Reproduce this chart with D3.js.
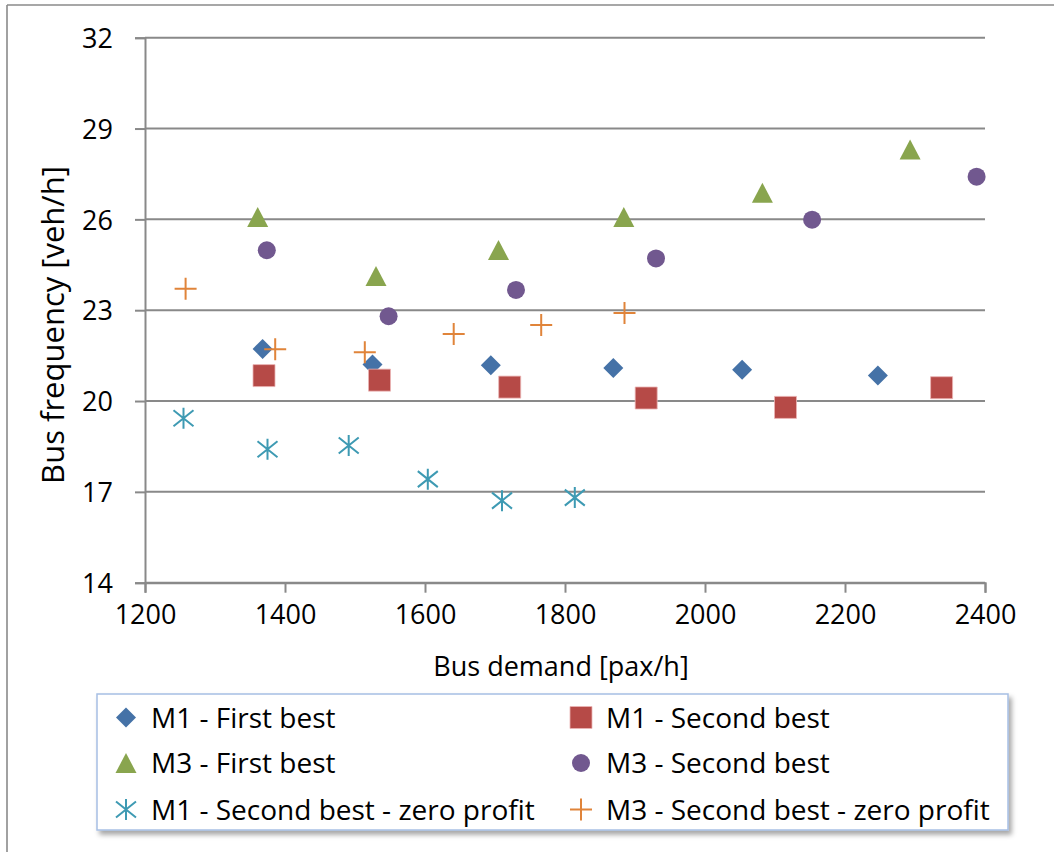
<!DOCTYPE html>
<html>
<head>
<meta charset="utf-8">
<script src="https://cdn.jsdelivr.net/npm/d3@7"></script>
<style>
  html, body { margin: 0; padding: 0; background: #fff; }
  svg { display: block; font-family: "Open Sans", "Noto Sans", sans-serif; }
</style>
</head>
<body>
<svg id="chart" width="1054" height="852"></svg>
<script>
// Bus demand [pax/h] and resulting bus frequency [veh/h] per scenario
const m1FirstX  = [1368, 1525, 1694, 1869, 2053, 2247];
const m1FirstY  = [21.72, 21.21, 21.18, 21.09, 21.03, 20.84];
const m1SecondX = [1370, 1535, 1721, 1916, 2115, 2338];
const m1SecondY = [20.84, 20.69, 20.46, 20.10, 19.79, 20.44];
const m3FirstX  = [1361, 1530, 1705, 1884, 2082, 2293];
const m3FirstY  = [26.08, 24.13, 24.99, 26.08, 26.88, 28.31];
const m3SecondX = [1374, 1548, 1730, 1930, 2153, 2388];
const m3SecondY = [24.98, 22.80, 23.67, 24.71, 25.99, 27.41];
const m1ZeroX   = [1255, 1375, 1491, 1604, 1710, 1814];
const m1ZeroY   = [19.43, 18.41, 18.53, 17.42, 16.71, 16.81];
const m3ZeroX   = [1258, 1386, 1514, 1641, 1766, 1885];
const m3ZeroY   = [23.71, 21.71, 21.61, 22.21, 22.51, 22.91];

const xTicks = [1200, 1400, 1600, 1800, 2000, 2200, 2400];
const yTicks = [14, 17, 20, 23, 26, 29, 32];
const seriesNames = [
  "M1 - First best", "M1 - Second best",
  "M3 - First best", "M3 - Second best",
  "M1 - Second best - zero profit", "M3 - Second best - zero profit"
];

const svg = d3.select("#chart");
const plot = { left: 145, right: 985, top: 37.7, bottom: 582.7 };

const x = d3.scaleLinear().domain([1200, 2400]).range([plot.left, plot.right]);
const y = d3.scaleLinear().domain([14, 32]).range([plot.bottom, plot.top]);

const gridColor = "#898989";

// outer frame (top and left edges)
svg.append("line").attr("x1", 7).attr("x2", 1054).attr("y1", 5).attr("y2", 5)
  .attr("stroke", "#8a8a8a").attr("stroke-width", 1.6);
svg.append("line").attr("x1", 7).attr("x2", 7).attr("y1", 5).attr("y2", 852)
  .attr("stroke", "#8a8a8a").attr("stroke-width", 1.6);

// horizontal gridlines
svg.append("g").selectAll("line").data(yTicks).join("line")
  .attr("x1", plot.left).attr("x2", plot.right)
  .attr("y1", d => y(d)).attr("y2", d => y(d))
  .attr("stroke", gridColor).attr("stroke-width", 2);

// y axis
const yAxis = svg.append("g").attr("transform", `translate(${plot.left},0)`)
  .call(d3.axisLeft(y).tickValues(yTicks).tickSize(10).tickPadding(22).tickFormat(d3.format("d")));
yAxis.select(".domain").attr("stroke", gridColor).attr("stroke-width", 2);
yAxis.selectAll(".tick line").attr("stroke", gridColor).attr("stroke-width", 2);
yAxis.selectAll(".tick text").attr("font-size", 27).attr("fill", "#000")
  .attr("font-family", "Open Sans").attr("dy", "0.36em");

// x axis
const xAxis = svg.append("g").attr("transform", `translate(0,${plot.bottom})`)
  .call(d3.axisBottom(x).tickValues(xTicks).tickSize(10).tickPadding(12).tickFormat(d3.format("d")));
xAxis.select(".domain").attr("stroke", gridColor).attr("stroke-width", 2);
xAxis.selectAll(".tick line").attr("stroke", gridColor).attr("stroke-width", 2);
xAxis.selectAll(".tick text").attr("font-size", 27).attr("fill", "#000")
  .attr("font-family", "Open Sans").attr("dy", "0.71em");

// axis titles
svg.append("text").attr("x", 561).attr("y", 676).attr("text-anchor", "middle")
  .attr("font-size", 27).attr("fill", "#000").text("Bus demand [pax/h]");
svg.append("text").attr("transform", "translate(64,325) rotate(-90)")
  .attr("text-anchor", "middle").attr("font-size", 31).attr("fill", "#000")
  .text("Bus frequency [veh/h]");

// marker shapes
const shapes = {
  diamond: "M0,-10L10,0L0,10L-10,0Z",
  square: "M-11,-11H11V11H-11Z",
  triangle: "M0,-10L10.5,10L-10.5,10Z",
  circle: d3.symbol().type(d3.symbolCircle).size(Math.PI * 81)(),
  asterisk: "M0,-10.5V10.5M-10,-8L10,8M-10,8L10,-8",
  plus: "M-11,0H11M0,-11V11"
};

const series = [
  { name: seriesNames[0], xs: m1FirstX,  ys: m1FirstY,  shape: "diamond",  color: "#4572A7", filled: true },
  { name: seriesNames[1], xs: m1SecondX, ys: m1SecondY, shape: "square",   color: "#B64A47", filled: true },
  { name: seriesNames[2], xs: m3FirstX,  ys: m3FirstY,  shape: "triangle", color: "#89A54E", filled: true },
  { name: seriesNames[3], xs: m3SecondX, ys: m3SecondY, shape: "circle",   color: "#71588F", filled: true },
  { name: seriesNames[4], xs: m1ZeroX,   ys: m1ZeroY,   shape: "asterisk", color: "#3E9AB3", filled: false },
  { name: seriesNames[5], xs: m3ZeroX,   ys: m3ZeroY,   shape: "plus",     color: "#E0843A", filled: false }
];

function styleMarker(sel, s) {
  if (s.filled) {
    sel.attr("fill", s.color);
    if (s.shape === "square") sel.attr("stroke", "rgba(235,180,180,0.8)").attr("stroke-width", 1);
  } else {
    sel.attr("fill", "none").attr("stroke", s.color).attr("stroke-width", 2);
  }
}

series.forEach(s => {
  const pts = s.xs.map((v, k) => [v, s.ys[k]]);
  svg.append("g").selectAll("path").data(pts).join("path")
    .attr("d", shapes[s.shape])
    .attr("transform", d => `translate(${x(d[0])},${y(d[1])})`)
    .call(sel => styleMarker(sel, s));
});

// legend
const defs = svg.append("defs");
const f = defs.append("filter").attr("id", "shadow").attr("x", "-5%").attr("y", "-10%")
  .attr("width", "115%").attr("height", "130%");
f.append("feDropShadow").attr("dx", 3).attr("dy", 4).attr("stdDeviation", 2.5)
  .attr("flood-color", "#000").attr("flood-opacity", 0.35);

const legend = svg.append("g");
legend.append("rect").attr("x", 97).attr("y", 694).attr("width", 911).attr("height", 136)
  .attr("fill", "#fff").attr("stroke", "#A7BFE4").attr("stroke-width", 1.5)
  .attr("filter", "url(#shadow)");

const colX = [126, 581];
const rowY = [717.5, 763, 809.5];
series.forEach((s, i) => {
  const cx = colX[i % 2], cy = rowY[Math.floor(i / 2)];
  legend.append("path").attr("d", shapes[s.shape])
    .attr("transform", `translate(${cx},${cy})`)
    .call(sel => styleMarker(sel, s));
  legend.append("text").attr("x", cx + 25).attr("y", cy).attr("dy", "0.36em")
    .attr("font-size", 28).attr("fill", "#000").text(s.name);
});
</script>
</body>
</html>
